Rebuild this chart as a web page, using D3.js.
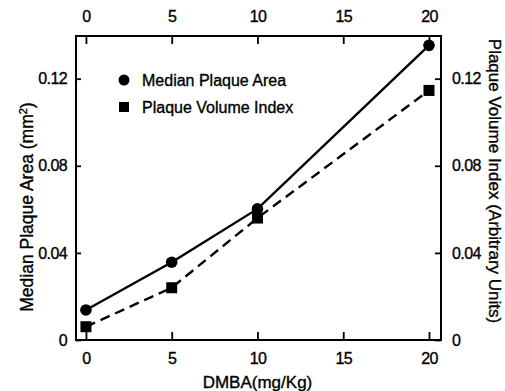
<!DOCTYPE html>
<html><head><meta charset="utf-8">
<script src="https://cdn.jsdelivr.net/npm/d3@7"></script>
<style>
body{margin:0;background:#fff;}
svg{display:block;}
text{font-family:"Liberation Sans",Arial,sans-serif;fill:#000;stroke:#000;stroke-width:0.35px;}
</style></head>
<body><div id="chart"></div>
<script>
const doses = [0, 5, 10, 20];
const medianPlaqueArea = [0.0138, 0.0357, 0.0602, 0.1353];
const plaqueVolumeIndex = [0.0061, 0.0240, 0.0560, 0.1146];
const xTicks = [0, 5, 10, 15, 20];
const yTicks = [0, 0.04, 0.08, 0.12];
const yTickLabels = ["0", "0.04", "0.08", "0.12"];
const seriesNames = ["Median Plaque Area", "Plaque Volume Index"];

const W = 505, H = 391;
const m = {left: 76, right: 64, top: 36, bottom: 51};
const iw = W - m.left - m.right, ih = H - m.top - m.bottom;

const svg = d3.select("#chart").append("svg").attr("width", W).attr("height", H);
const g = svg.append("g").attr("transform", `translate(${m.left},${m.top})`);

const x = d3.scaleLinear().domain([-0.58, 20.7]).range([0, iw]);
const y = d3.scaleLinear().domain([0, 0.1396]).range([ih, 0]);

// frame
g.append("rect").attr("width", iw).attr("height", ih).attr("fill", "none").attr("stroke", "#000").attr("stroke-width", 2);

const fmt = (d) => yTickLabels[yTicks.indexOf(d)];
function styleAxis(sel) {
  sel.select(".domain").remove();
  sel.selectAll(".tick line").attr("stroke", "#000").attr("stroke-width", 1.8);
  sel.selectAll(".tick text").attr("font-size", 16).attr("letter-spacing", "-0.6px")
    .style("font-family", '"Liberation Sans",Arial,sans-serif').attr("stroke", "#000").attr("stroke-width", 0.35);
}
g.append("g").attr("transform", `translate(0,${ih})`)
  .call(d3.axisBottom(x).tickValues(xTicks).tickSize(-8).tickPadding(13))
  .call(styleAxis);
g.append("g")
  .call(d3.axisTop(x).tickValues(xTicks).tickSize(-8).tickPadding(14))
  .call(styleAxis);
g.append("g")
  .call(d3.axisLeft(y).tickValues(yTicks).tickFormat(fmt).tickSize(-5).tickPadding(9))
  .call(styleAxis);
g.append("g").attr("transform", `translate(${iw},0)`)
  .call(d3.axisRight(y).tickValues(yTicks).tickFormat(fmt).tickSize(-6).tickPadding(11))
  .call(styleAxis);

// lines
const line = (vals) => d3.line().x((d, i) => x(doses[i])).y(d => y(d))(vals);
g.append("path").attr("d", line(medianPlaqueArea)).attr("fill", "none").attr("stroke", "#000").attr("stroke-width", 2.4);
g.append("path").attr("d", line(plaqueVolumeIndex)).attr("fill", "none").attr("stroke", "#000").attr("stroke-width", 2.4).attr("stroke-dasharray", "10,6");

g.selectAll("circle.pt").data(medianPlaqueArea).enter().append("circle")
  .attr("cx", (d, i) => x(doses[i])).attr("cy", d => y(d)).attr("r", 5.8).attr("fill", "#000");
const sq = 11;
g.selectAll("rect.pt").data(plaqueVolumeIndex).enter().append("rect")
  .attr("x", (d, i) => x(doses[i]) - sq / 2).attr("y", d => y(d) - sq / 2)
  .attr("width", sq).attr("height", sq).attr("fill", "#000");

// legend
const lg = svg.append("g");
lg.append("circle").attr("cx", 124).attr("cy", 80).attr("r", 5.5).attr("fill", "#000");
lg.append("rect").attr("x", 119).attr("y", 102).attr("width", 10).attr("height", 10).attr("fill", "#000");
lg.append("text").attr("x", 142).attr("y", 86).attr("font-size", 16).text(seriesNames[0]);
lg.append("text").attr("x", 142).attr("y", 113).attr("font-size", 16).text(seriesNames[1]);

// axis titles
svg.append("text").attr("x", m.left + x(10)).attr("y", 388).attr("text-anchor", "middle").attr("font-size", 17).text("DMBA(mg/Kg)");
svg.append("text").attr("transform", "translate(33,207) rotate(-90)").attr("text-anchor", "middle").attr("font-size", 17.5)
  .html('Median Plaque Area (mm<tspan dy="-6" font-size="11">2</tspan><tspan dy="6">)</tspan>');
svg.append("text").attr("transform", "translate(489,181) rotate(90)").attr("text-anchor", "middle").attr("font-size", 17)
  .text("Plaque Volume Index (Arbitrary Units)");
</script>
</body></html>
